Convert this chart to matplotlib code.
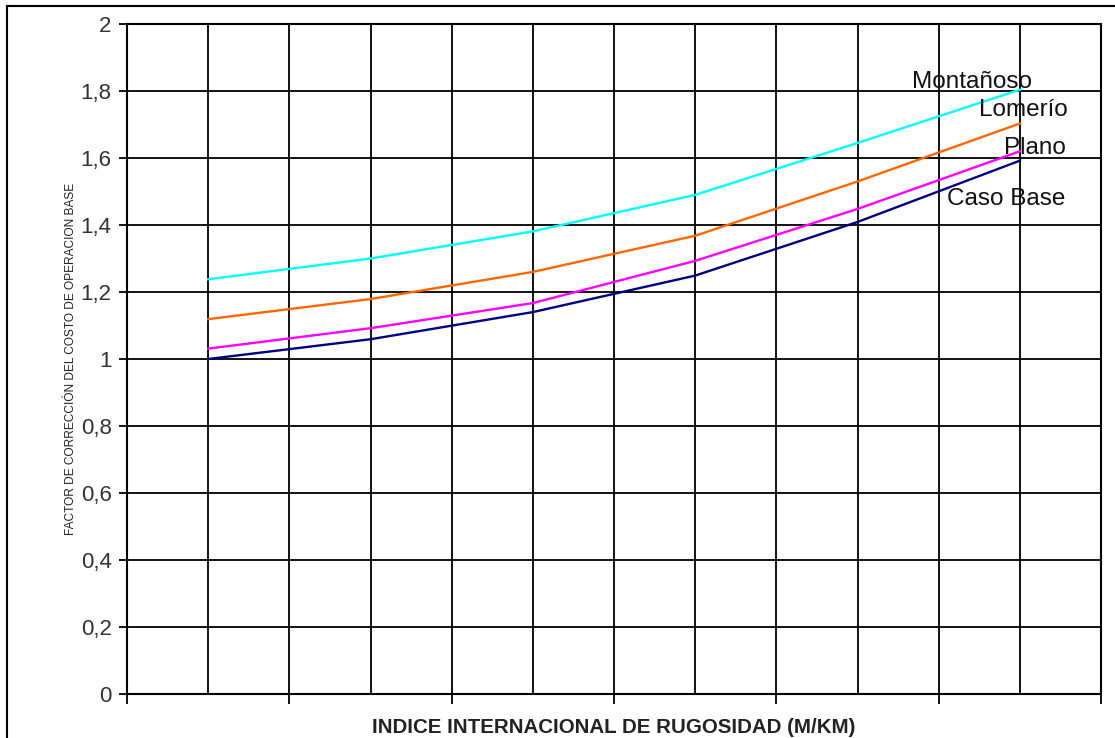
import numpy as np
import matplotlib.pyplot as plt
from matplotlib.lines import Line2D
from matplotlib.ticker import FuncFormatter, MultipleLocator

plt.rcParams['font.family'] = ['Liberation Sans', 'DejaVu Sans']

# six roughness categories (no tick labels on the original x axis)
x_cat = np.arange(6)

series_names = ['Montañoso', 'Lomerío', 'Plano', 'Caso Base']
montanoso = [1.238, 1.300, 1.381, 1.490, 1.645, 1.804]
lomerio = [1.119, 1.179, 1.260, 1.368, 1.530, 1.703]
plano = [1.031, 1.092, 1.167, 1.293, 1.448, 1.620]
caso_base = [1.000, 1.059, 1.140, 1.249, 1.409, 1.592]

colors = ['#00ffff', '#ff6600', '#ff00ff', '#000080']
# label offsets (pixels) relative to last point of each line
offsets = [(-48, 8), (4, 13), (15, 3), (-14, -38)]

fig = plt.figure(figsize=(11.15, 7.38), dpi=100)
ax = fig.add_axes([127 / 1115, 44 / 738, 974 / 1115, 670 / 738])

for name, vals, c, off in zip(series_names, [montanoso, lomerio, plano, caso_base], colors, offsets):
    ax.plot(x_cat, vals, color=c, lw=1.7, zorder=3)
    ax.annotate(name, (x_cat[-1], vals[-1]), xytext=off, textcoords='offset pixels',
                ha='center', va='center', fontsize=17.5, color='#111111', zorder=4)

ax.set_xlim(-0.5, 5.5)
ax.set_ylim(0, 2)
ax.yaxis.set_major_locator(MultipleLocator(0.2))
ax.yaxis.set_major_formatter(FuncFormatter(lambda v, p: ('%g' % round(v, 1)).replace('.', ',')))
ax.xaxis.set_major_locator(MultipleLocator(1, offset=0.5))
ax.xaxis.set_minor_locator(MultipleLocator(0.5))
ax.set_xticklabels([])
ax.tick_params(axis='x', which='major', length=7, width=1.3, direction='out')
ax.tick_params(axis='x', which='minor', length=0)
ax.tick_params(axis='y', length=6, width=1.3, direction='out', labelsize=16, labelcolor='#333333', pad=5)

ax.grid(True, which='both', axis='x', color='black', lw=1.3)
ax.grid(True, which='major', axis='y', color='black', lw=1.3)
ax.set_axisbelow(True)
for s in ax.spines.values():
    s.set_linewidth(1.5)

ax.set_xlabel('INDICE INTERNACIONAL DE RUGOSIDAD (M/KM)', fontsize=14.8, fontweight='bold',
              color='#222222', labelpad=7)
ax.set_ylabel('FACTOR DE CORRECCIÓN DEL COSTO DE OPERACION BASE', fontsize=8.6,
              color='#222222', labelpad=3)

# outer frame of the original chart (only left and top visible)
fig.add_artist(Line2D([7 / 1115, 7 / 1115], [0, 1 - 6 / 738], color='black', lw=1.5))
fig.add_artist(Line2D([7 / 1115, 1], [1 - 6 / 738, 1 - 6 / 738], color='black', lw=1.5))

fig.savefig('out.png', dpi=100)
